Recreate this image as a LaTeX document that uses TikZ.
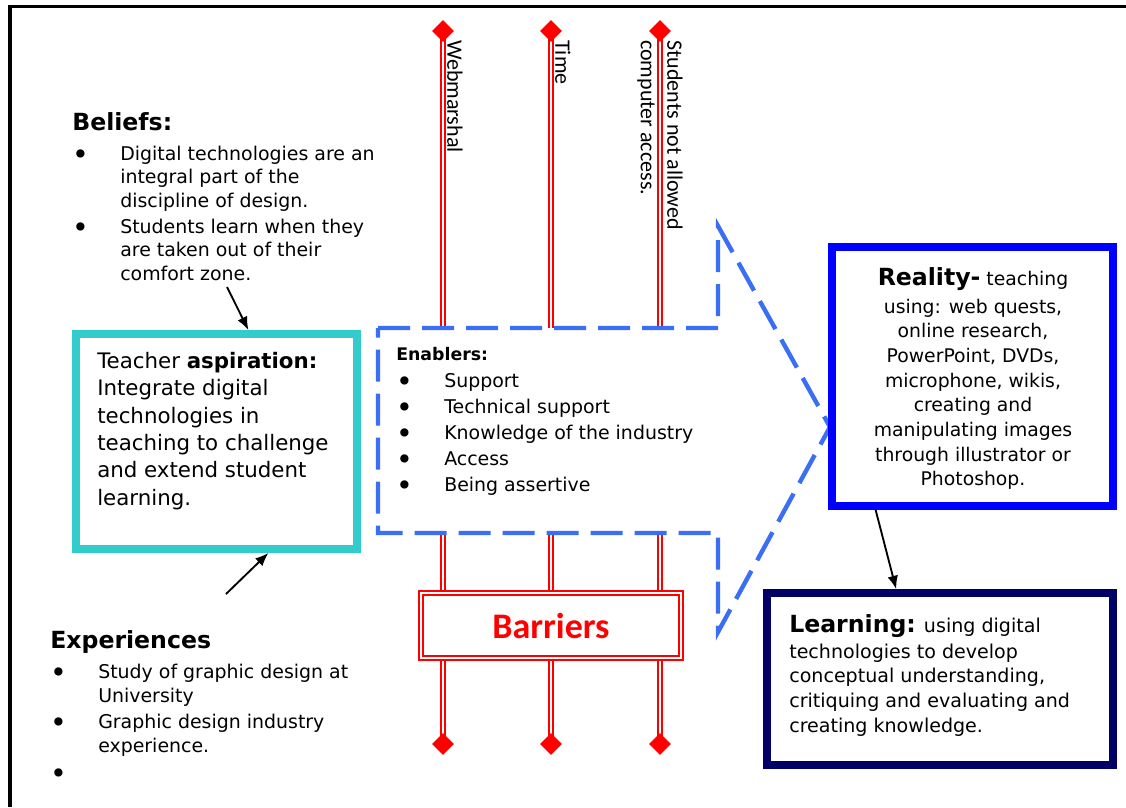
\documentclass[tikz,border=0pt]{standalone}
\usepackage{fontspec}
\setmainfont{DejaVu Sans}
\newfontfamily\calib{Carlito}
\usetikzlibrary{shapes.geometric,arrows.meta,positioning,backgrounds}

\definecolor{tealline}{RGB}{51,204,204}
\definecolor{dashblue}{RGB}{58,110,245}
\definecolor{realblue}{RGB}{0,0,255}
\definecolor{navy}{RGB}{0,0,102}

\newcommand{\bul}{\makebox[36pt][l]{\raisebox{-3pt}{\scalebox{1.5}{\textbullet}}}}
\newcommand{\ind}{\hspace*{36pt}}
\newcommand{\headfont}{\fontsize{17.7}{21}\selectfont\bfseries}

\begin{document}
\begin{tikzpicture}[x=0.75pt, y=-0.75pt,
    body/.style={anchor=north west, inner sep=0pt, align=left, font=\fontsize{14.2}{17.6}\selectfont},
    frame/.style={line width=2.6pt},
    box/.style={rectangle, draw, fill=white, line width=5.8pt, inner sep=0pt},
    redline/.style={draw=red, double=white, double distance=1.5pt, line width=1.2pt},
    capmark/.style={diamond, fill=red, inner sep=0pt, minimum size=16.5pt},
    vlabel/.style={rotate=-90, anchor=south west, inner sep=0pt, align=left, font=\calib\fontsize{16.5}{20}\selectfont},
    enabler/.style={draw=dashblue, fill=white, line width=3.3pt, dash pattern=on 24pt off 9pt},
    line/.style={draw, -{Latex[length=10pt, width=8pt]}, line width=1.4pt}]

    \useasboundingbox (0,0) rectangle (1126,807);
    \draw[frame] (10,807) -- (10,6.5) -- (1126,6.5);

    % barrier posts
    \foreach \n/\x in {1/443, 2/551, 3/660} {
        \node[capmark] (top\n) at (\x,31) {};
        \node[capmark] (bot\n) at (\x,744) {};
    }
    \begin{scope}[on background layer]
        \foreach \n in {1,2,3}
            \draw[redline] (top\n.center) -- (bot\n.center);
    \end{scope}

    \node[vlabel] (webm) at (447,40) {Webmarshal};
    \node[vlabel] (time) at (555,40) {Time};
    \node[vlabel] (access) at (637,40) {Students not allowed\\computer access.};

    % enablers arrow
    \draw[enabler] (378,328) -- (718,328) -- (718,226) -- (830,427) -- (718,632) -- (718,533) -- (378,533) -- cycle;
    \node[body, font=\fontsize{14.2}{19.5}\selectfont] (enablers) at (396,347)
        {{\fontsize{13}{19.5}\selectfont\bfseries Enablers:}\\[0.75pt]
         \bul Support\\ \bul Technical support\\ \bul Knowledge of the industry\\
         \bul Access\\ \bul Being assertive};

    \node[draw=red, double=white, double distance=2.2pt, line width=1.1pt, fill=white,
        minimum width=195pt, minimum height=48.75pt, text=red,
        font=\calib\fontsize{27}{30}\selectfont\bfseries] (barriers) at (551,625.5) {Barriers};

    % left column
    \node[body] (beliefs) at (72,112)
        {{\headfont Beliefs:}\\[4.9pt]
         \bul Digital technologies are an\\ \ind integral part of the\\ \ind discipline of design.\\[2pt]
         \bul Students learn when they\\ \ind are taken out of their\\ \ind comfort zone.};

    \node[box, draw=tealline, minimum width=210.75pt, minimum height=161.25pt] (aspire) at (216.5,441.5) {};
    \node[body, font=\fontsize{16}{20.5}\selectfont] (aimtext) at (97,352)
        {Teacher \textbf{aspiration:}\\ Integrate digital\\ technologies in\\
         teaching to challenge\\ and extend student\\ learning.};

    \node[body, font=\fontsize{14.2}{18}\selectfont] (exper) at (50,630)
        {{\headfont Experiences}\\[4.5pt]
         \bul Study of graphic design at\\ \ind University\\[1.5pt]
         \bul Graphic design industry\\ \ind experience.\\[2.2pt] \bul};

    % right column
    \node[box, draw=realblue, minimum width=210.75pt, minimum height=194.25pt] (reality) at (972.5,376.5) {};
    \node[anchor=north, inner sep=0pt, align=center, font=\fontsize{14.1}{18.5}\selectfont] (realtext) at (973,267)
        {{\headfont Reality-} teaching\\[2.5pt] using: web quests,\\ online research,\\
         PowerPoint, DVDs,\\ microphone, wikis,\\ creating and\\ manipulating images\\
         through illustrator or\\ Photoshop.};

    \node[box, draw=navy, minimum width=259.5pt, minimum height=129pt] (learn) at (940,679) {};
    \node[body, font=\fontsize{14.3}{18.5}\selectfont] (learntext) at (789,614)
        {{\headfont Learning:} using digital\\[1pt] technologies to develop\\
         conceptual understanding,\\ critiquing and evaluating and\\ creating knowledge.};

    \coordinate (bfoot) at (227,287);
    \coordinate (efoot) at (226,594);
    \path[line] (bfoot) -- (aspire.74);
    \path[line] (efoot) -- (aspire.-65);
    \path[line] (reality.-126) -- (learn.116);
\end{tikzpicture}
\end{document}
